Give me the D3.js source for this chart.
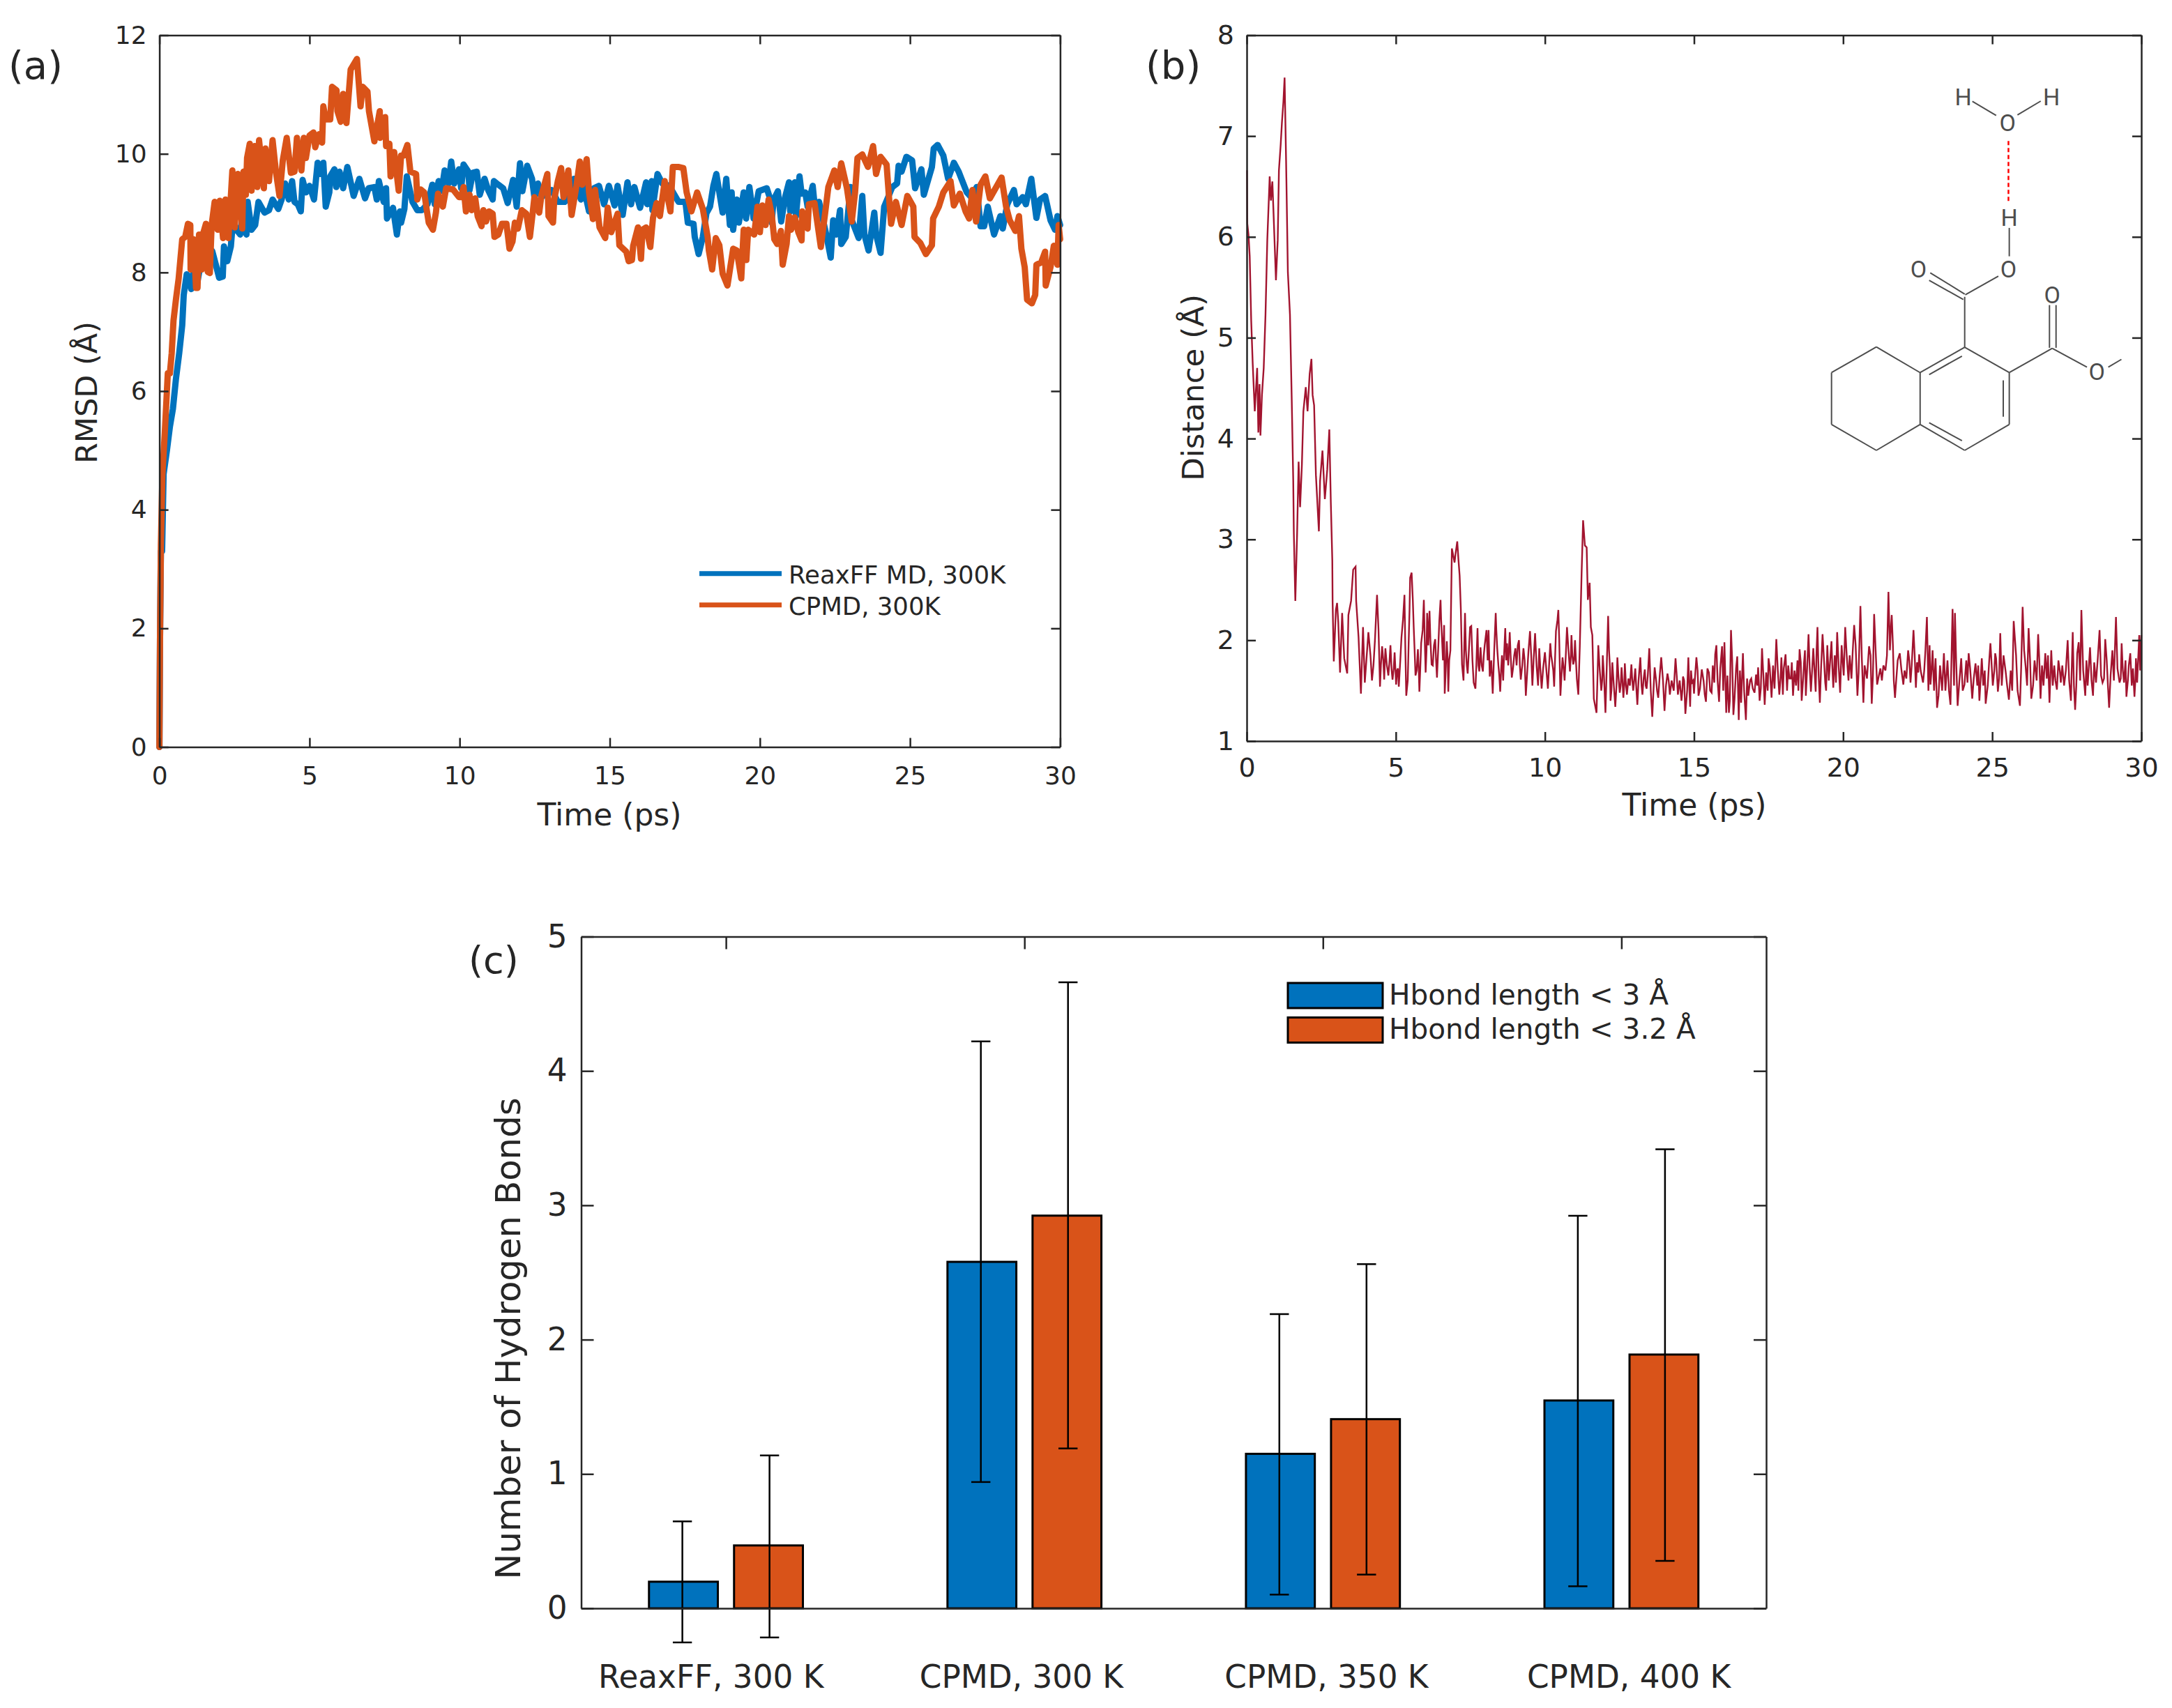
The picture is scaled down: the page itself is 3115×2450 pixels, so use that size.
<!DOCTYPE html>
<html>
<head>
<meta charset="utf-8">
<script src="https://cdn.jsdelivr.net/npm/d3@7"></script>
<style>
  html, body { margin: 0; background: #fff; }
  text { font-family: "DejaVu Sans"; fill: #262626; }
</style>
</head>
<body>
<svg id="chart" width="3115" height="2450"></svg>
<script>
// (a) RMSD traces, [time ps, RMSD A]
const reaxffRmsd = [[0,0],[.02,1.8],[.05,3.3],[.09,3.3],[.14,4.6],[.25,5],[.35,5.4],[.45,5.7],[.55,6.2],[.66,6.64],[.76,7.11],[.81,7.62],[.91,7.97],[.99,7.93],[1.06,7.72],[1.14,8.01],[1.26,7.82],[1.37,8.13],[1.57,8.36],[1.76,8.36],[1.88,8.13],[1.99,7.91],[2.11,7.93],[2.15,8.44],[2.26,8.19],[2.38,8.44],[2.45,8.87],[2.57,8.72],[2.69,8.64],[2.76,8.91],[2.9,8.64],[2.94,9.19],[3.07,8.72],[3.19,8.8],[3.3,9.19],[3.5,9.01],[3.65,9.05],[3.77,9.23],[3.96,9.07],[4.07,9.23],[4.19,9.5],[4.31,9.23],[4.42,9.54],[4.5,9.19],[4.61,9.15],[4.71,9.03],[4.77,9.56],[4.88,9.35],[5,9.46],[5.15,9.23],[5.27,9.85],[5.35,9.66],[5.46,9.85],[5.54,9.11],[5.66,9.35],[5.69,9.62],[5.83,9.74],[5.89,9.44],[6,9.7],[6.12,9.42],[6.26,9.78],[6.47,9.29],[6.66,9.58],[6.85,9.25],[6.97,9.42],[7.16,9.44],[7.24,9.23],[7.31,9.54],[7.47,9.19],[7.55,9.42],[7.58,8.91],[7.78,9.09],[7.91,8.64],[8.01,9.03],[8.05,8.84],[8.16,9.07],[8.24,9.62],[8.43,9.19],[8.59,9.05],[8.74,9.05],[8.93,9.15],[9.09,9.48],[9.17,9.15],[9.3,9.54],[9.4,9.38],[9.5,9.72],[9.63,9.5],[9.72,9.87],[9.82,9.5],[9.98,9.74],[10.05,9.42],[10.13,9.82],[10.29,9.7],[10.33,9.39],[10.44,9.68],[10.57,9.7],[10.67,9.31],[10.83,9.58],[10.95,9.39],[11.1,9.23],[11.14,9.54],[11.29,9.48],[11.45,9.42],[11.6,9.17],[11.78,9.56],[11.9,9.11],[12.01,9.84],[12.09,9.37],[12.25,9.8],[12.41,9.58],[12.49,9.27],[12.61,9.5],[12.72,9.27],[13.07,9.39],[13.27,9.19],[13.5,9.19],[13.81,9.58],[14.04,9.23],[14.12,9.46],[14.31,9.03],[14.47,9.42],[14.64,9.46],[14.81,9.15],[14.97,9.46],[15.16,9.13],[15.26,9.46],[15.43,8.97],[15.59,9.52],[15.71,9.15],[15.82,9.44],[16.01,9.09],[16.21,9.52],[16.25,9.15],[16.4,9.54],[16.42,9.05],[16.59,9.66],[16.75,9.5],[16.98,9.46],[17.29,9.19],[17.52,9.19],[17.6,8.84],[17.79,8.82],[17.83,8.6],[17.96,8.31],[18.1,8.6],[18.22,9],[18.34,9.11],[18.45,9.46],[18.55,9.66],[18.65,9.35],[18.76,9.01],[18.88,9.58],[19,8.8],[19.06,9.35],[19.11,8.72],[19.23,9.23],[19.3,8.84],[19.46,9.35],[19.54,8.91],[19.65,9.44],[19.79,8.91],[19.96,9.37],[20.23,9.42],[20.35,9.23],[20.39,8.84],[20.46,9.23],[20.6,9.37],[20.71,8.86],[20.84,9.27],[20.97,9.52],[21.01,9.03],[21.16,9.52],[21.2,8.95],[21.32,9.62],[21.39,9.33],[21.51,9.35],[21.59,9.11],[21.76,9.46],[21.82,9.15],[21.97,9.19],[22.21,8.64],[22.36,8.25],[22.44,8.88],[22.55,8.64],[22.67,9.05],[22.71,8.48],[22.86,8.6],[23.02,9.44],[23.06,8.88],[23.29,8.58],[23.41,9.29],[23.48,8.64],[23.62,8.37],[23.81,9.01],[23.87,8.64],[24.02,8.33],[24.14,9.11],[24.41,9.44],[24.57,9.5],[24.62,9.8],[24.72,9.7],[24.88,9.95],[25.07,9.89],[25.17,9.42],[25.38,9.74],[25.46,9.31],[25.73,9.78],[25.79,10.09],[25.92,10.15],[26.11,9.97],[26.27,9.58],[26.46,9.85],[26.62,9.7],[26.89,9.35],[27.04,9.27],[27.22,9.44],[27.35,8.78],[27.47,8.78],[27.59,9.11],[27.8,8.64],[28.01,8.95],[28.09,8.74],[28.24,9.15],[28.46,9.39],[28.55,9.15],[28.75,9.27],[28.86,9.15],[29.04,9.58],[29.21,8.92],[29.33,9.23],[29.5,9.29],[29.68,8.88],[29.83,8.72],[29.91,8.95],[30,8.8]];

const cpmdRmsd = [[0,0],[.02,1.8],[.05,3.4],[.1,4.6],[.18,5.3],[.28,6.3],[.35,6.3],[.41,6.64],[.47,7.19],[.55,7.54],[.64,7.89],[.76,8.56],[.86,8.6],[.95,8.82],[1.03,8.8],[1.04,8.05],[1.14,8.56],[1.22,7.74],[1.27,7.74],[1.32,8.64],[1.41,8.05],[1.47,8.68],[1.55,8.82],[1.61,8.01],[1.68,7.99],[1.74,8.8],[1.84,9.19],[1.94,8.72],[2.01,9.21],[2.12,8.58],[2.2,9.23],[2.3,8.58],[2.43,9.72],[2.51,8.76],[2.61,9.66],[2.76,8.74],[2.8,9.7],[2.88,9.31],[2.92,9.93],[3.01,10.17],[3.07,9.38],[3.17,10.13],[3.26,9.44],[3.32,10.23],[3.48,9.42],[3.53,10.09],[3.65,9.54],[3.77,10.23],[3.88,9.7],[4,9.29],[4.11,9.89],[4.24,10.27],[4.38,9.68],[4.5,9.7],[4.58,10.27],[4.73,9.72],[4.81,10.27],[4.88,9.93],[5,10.31],[5.13,10.36],[5.19,10.11],[5.31,10.33],[5.42,10.19],[5.46,10.8],[5.54,10.58],[5.69,10.58],[5.75,11.13],[5.9,11.07],[5.93,10.72],[6.04,10.54],[6.12,11.01],[6.23,10.52],[6.37,11.42],[6.58,11.6],[6.7,10.8],[6.77,11.13],[6.93,11.05],[6.98,10.72],[7.16,10.21],[7.34,10.72],[7.35,10.27],[7.52,10.62],[7.55,10.13],[7.66,10.17],[7.7,9.62],[7.82,10.03],[7.97,9.38],[8.05,9.97],[8.13,9.97],[8.26,10.15],[8.36,9.7],[8.55,9.66],[8.59,9.23],[8.7,9.4],[8.82,9.35],[8.9,9.07],[8.97,8.84],[9.11,8.72],[9.21,9.01],[9.28,9.33],[9.44,9.11],[9.55,9.42],[9.78,9.4],[9.98,9.27],[10.05,9.27],[10.13,9.44],[10.21,9.03],[10.33,9.31],[10.4,9.05],[10.52,9.25],[10.6,8.95],[10.73,8.78],[10.79,9.05],[10.88,8.86],[10.98,9.03],[11.1,8.99],[11.16,8.6],[11.29,8.64],[11.41,8.82],[11.56,8.82],[11.66,8.4],[11.76,8.52],[11.84,8.84],[11.94,8.74],[12.07,9.05],[12.22,8.99],[12.34,8.6],[12.43,8.99],[12.49,9.27],[12.65,9.01],[12.72,9.29],[12.92,9.66],[12.96,8.95],[13.11,8.84],[13.15,9.23],[13.27,9.54],[13.38,9.76],[13.46,9.27],[13.62,9.72],[13.73,8.97],[13.89,9.46],[14,9.87],[14.08,9.48],[14.23,9.91],[14.31,9.35],[14.44,8.9],[14.51,9.39],[14.66,8.76],[14.85,8.58],[14.93,9.09],[15.05,8.68],[15.26,8.99],[15.32,8.46],[15.55,8.35],[15.63,8.19],[15.74,8.21],[15.78,8.45],[15.94,8.76],[16.04,8.23],[16.09,8.72],[16.21,8.76],[16.35,8.43],[16.44,8.92],[16.56,9.17],[16.67,8.95],[16.83,9.54],[17.02,9.03],[17.1,9.78],[17.28,9.78],[17.45,9.76],[17.56,9.35],[17.72,9.03],[17.91,9.35],[18.1,9.07],[18.26,8.6],[18.3,8.37],[18.41,8.05],[18.53,8.58],[18.65,8.46],[18.76,7.98],[18.92,7.78],[19.11,8.4],[19.23,8.37],[19.38,7.9],[19.46,8.72],[19.55,8.21],[19.61,8.72],[19.81,8.64],[19.92,9.11],[20,8.68],[20.08,9.13],[20.19,8.8],[20.29,9.23],[20.39,8.99],[20.48,8.56],[20.58,8.48],[20.7,8.7],[20.76,8.13],[20.89,8.48],[20.97,8.95],[21.04,8.72],[21.16,8.93],[21.28,8.68],[21.39,8.54],[21.41,9.03],[21.59,8.74],[21.63,9.15],[21.82,9.17],[22.03,8.43],[22.17,8.99],[22.28,9.44],[22.48,9.72],[22.59,9.44],[22.71,9.84],[22.9,9.42],[23.06,8.86],[23.17,9.35],[23.25,9.93],[23.41,9.99],[23.6,9.78],[23.77,10.13],[23.87,9.66],[24.02,9.95],[24.22,9.82],[24.3,9.27],[24.37,8.82],[24.53,9.19],[24.72,8.8],[24.91,9.29],[25.11,9.11],[25.15,8.6],[25.34,8.5],[25.53,8.31],[25.73,8.46],[25.77,8.91],[25.96,9.11],[26.11,9.35],[26.35,9.54],[26.46,9.13],[26.66,9.33],[26.85,9.03],[26.97,8.91],[27.08,9.39],[27.2,8.86],[27.35,9.48],[27.51,9.62],[27.66,9.25],[28.05,9.6],[28.2,9.11],[28.32,8.88],[28.51,8.7],[28.63,8.95],[28.71,8.4],[28.82,8.09],[28.9,7.54],[29.06,7.48],[29.17,7.62],[29.21,8.13],[29.37,8.17],[29.5,8.35],[29.52,7.78],[29.68,8.09],[29.79,8.45],[29.91,8.13],[29.95,8.8],[30,8.56]];

// (b) distance trace, [time ps, distance A]: the spikes, then the finer wiggle between them
const hbDistance = [[.01,6.66],[.02,6.13],[.06,6.02],[.1,5.81],[.15,5.17],[.2,4.75],[.27,4.27],[.35,4.7],[.39,4.06],[.43,4.54],[.46,4.03],[.51,4.43],[.57,4.7],[.63,5.23],[.69,5.97],[.77,6.6],[.81,6.36],[.86,6.55],[.9,6.23],[.98,5.57],[1.04,5.97],[1.08,6.66],[1.14,6.92],[1.18,7.13],[1.23,7.34],[1.27,7.58],[1.32,6.76],[1.38,5.65],[1.45,5.23],[1.51,4.38],[1.56,3.58],[1.58,3.06],[1.63,2.39],[1.69,3.06],[1.74,3.77],[1.79,3.32],[1.85,3.74],[1.9,4.27],[1.98,4.51],[2.04,4.27],[2.11,4.64],[2.17,4.79],[2.21,4.43],[2.26,4.33],[2.32,3.64],[2.42,3.08],[2.46,3.58],[2.54,3.88],[2.62,3.4],[2.7,3.69],[2.77,4.09],[2.82,3.37],[2.87,2.79],[2.88,2.38],[2.92,1.79],[2.99,2.3],[3.03,2.37],[3.07,2.18],[3.13,1.68],[3.2,2.27],[3.27,1.82],[3.37,1.67],[3.41,2.25],[3.5,2.39],[3.57,2.7],[3.65,2.73],[3.67,2.39],[3.75,2.03],[3.83,1.47],[3.9,2.13],[3.96,1.58],[4.08,2.08],[4.2,1.6],[4.37,2.45],[4.47,1.54],[4.54,1.94],[4.61,1.61],[4.65,1.92],[4.75,1.65],[4.82,1.95],[4.89,1.61],[4.96,1.88],[5.01,1.56],[5.07,1.72],[5.1,1.54],[5.19,2.03],[5.29,2.45],[5.35,1.45],[5.43,1.97],[5.48,2.62],[5.53,2.67],[5.6,2.13],[5.66,1.65],[5.74,1.91],[5.79,1.49],[5.85,1.97],[5.94,2.4],[6,1.68],[6.05,2.27],[6.13,2.29],[6.2,1.76],[6.32,2.01],[6.38,1.63],[6.5,2.4],[6.55,2.01],[6.62,2.15],[6.64,1.47],[6.71,1.99],[6.76,1.49],[6.83,1.9],[6.88,2.91],[6.97,2.77],[7.06,2.98],[7.14,2.64],[7.18,2.31],[7.22,1.76],[7.27,1.6],[7.32,2.27],[7.41,1.67],[7.49,2.13],[7.53,2.14],[7.61,1.58],[7.67,1.52],[7.74,2.12],[7.8,1.69],[7.84,1.93],[7.92,1.69],[8.04,2.1],[8.11,2.1],[8.15,1.64],[8.25,1.47],[8.35,2.27],[8.4,1.92],[8.5,1.49],[8.56,1.85],[8.6,1.6],[8.67,2.12],[8.73,1.97],[8.82,2.08],[8.89,1.63],[9.01,1.92],[9.13,2],[9.19,1.61],[9.28,1.92],[9.36,1.45],[9.5,2.09],[9.58,1.55],[9.67,2.07],[9.77,1.55],[9.81,1.92],[9.89,1.52],[10,1.88],[10.1,1.52],[10.18,1.97],[10.24,1.79],[10.31,1.54],[10.37,2.09],[10.45,2.3],[10.52,1.45],[10.59,1.83],[10.66,1.6],[10.74,2.13],[10.84,1.69],[10.89,2.05],[10.95,1.76],[11.01,2],[11.07,1.62],[11.12,1.46],[11.17,1.94],[11.23,2.66],[11.28,3.19],[11.34,2.94],[11.4,2.92],[11.44,2.4],[11.5,2.57],[11.54,2.13],[11.59,2.05],[11.64,1.42],[11.73,1.28],[11.79,1.95],[11.89,1.5],[11.94,1.85],[12.03,1.28],[12.12,2.24],[12.18,1.73],[12.2,1.4],[12.26,1.78],[12.36,1.34],[12.43,1.83],[12.51,1.48],[12.57,1.73],[12.63,1.43],[12.68,1.77],[12.75,1.46],[12.9,1.76],[12.96,1.5],[13.03,1.72],[13.1,1.36],[13.2,1.83],[13.27,1.46],[13.35,1.71],[13.41,1.52],[13.5,1.92],[13.6,1.24],[13.68,1.73],[13.8,1.43],[13.9,1.83],[14.01,1.3],[14.11,1.67],[14.19,1.46],[14.38,1.82],[14.46,1.46],[14.58,1.4],[14.63,1.64],[14.71,1.27],[14.81,1.83],[14.87,1.34],[14.93,1.58],[15,1.47],[15.08,1.83],[15.15,1.45],[15.26,1.71],[15.4,1.39],[15.45,1.72],[15.59,1.48],[15.75,1.95],[15.84,1.39],[15.94,1.94],[16.02,1.98],[16.08,1.28],[16.17,1.28],[16.24,2.1],[16.32,1.26],[16.45,1.84],[16.5,1.21],[16.64,1.87],[16.74,1.21],[16.88,1.6],[17.03,1.48],[17.15,1.73],[17.2,1.4],[17.28,1.92],[17.37,1.36],[17.54,1.73],[17.6,1.43],[17.76,2.01],[17.86,1.46],[17.93,1.83],[17.98,1.46],[18.07,1.86],[18.2,1.62],[18.32,1.45],[18.54,1.91],[18.61,1.4],[18.69,1.78],[18.75,1.45],[18.84,2.06],[18.92,1.49],[19,1.92],[19.08,1.49],[19.14,2.13],[19.22,1.38],[19.31,2.06],[19.43,1.5],[19.61,1.99],[19.67,1.53],[19.8,2.08],[19.9,1.48],[20.07,2.13],[20.18,1.6],[20.37,2.15],[20.48,1.45],[20.58,2.34],[20.68,1.38],[20.87,1.94],[20.96,1.37],[21.04,2.26],[21.14,1.56],[21.35,1.75],[21.52,2.48],[21.6,2.11],[21.67,1.95],[21.74,1.43],[21.9,1.87],[22.02,1.56],[22.18,1.9],[22.26,1.58],[22.36,2.1],[22.44,1.53],[22.55,1.86],[22.68,1.58],[22.81,2.23],[22.93,1.56],[23,1.9],[23.15,1.33],[23.38,1.87],[23.6,1.36],[23.67,2.31],[23.75,2.27],[23.84,1.35],[23.96,1.82],[24.07,1.56],[24.21,1.87],[24.33,1.42],[24.44,1.77],[24.57,1.4],[24.65,1.82],[24.78,1.37],[24.94,1.97],[25.1,1.87],[25.19,1.49],[25.27,2.07],[25.45,1.69],[25.56,1.41],[25.72,2.19],[25.93,1.35],[26.02,2.33],[26.12,1.74],[26.22,2.12],[26.31,1.42],[26.54,2.06],[26.62,1.42],[26.78,1.87],[26.92,1.38],[26.98,1.9],[27.17,1.51],[27.27,1.69],[27.53,2],[27.64,1.4],[27.7,2.08],[27.78,1.31],[27.85,1.87],[27.99,2.3],[28.12,1.45],[28.28,1.93],[28.38,1.45],[28.6,2.1],[28.7,1.58],[28.79,2.01],[28.92,1.33],[29.15,2.23],[29.27,1.58],[29.34,1.97],[29.5,1.44],[29.63,1.87],[29.77,1.44],[29.82,1.82],[29.93,2.05],[30,2.05]];
const hbDistanceFine = [[4.15,1.85],[4.25,1.75],[4.3,2],[4.42,2.1],[4.5,1.75],[4.58,1.8],[4.7,1.75],[4.79,1.8],[4.86,1.7],[4.93,1.72],[5.04,1.7],[5.15,1.8],[5.24,2.2],[5.32,1.9],[5.4,1.6],[5.46,2.3],[5.57,2.4],[5.63,1.9],[5.7,1.7],[5.77,1.7],[5.82,1.72],[5.9,2.1],[5.97,2],[6.03,1.9],[6.09,1.95],[6.16,2],[6.24,1.75],[6.28,1.95],[6.35,1.8],[6.42,1.9],[6.46,2.2],[6.52,2.2],[6.58,1.8],[6.68,1.75],[6.74,1.8],[6.79,1.8],[7,2.85],[7.1,2.8],[7.35,1.9],[7.38,1.75],[7.45,1.9],[7.57,1.8],[7.7,1.75],[7.77,1.75],[7.88,1.75],[7.95,1.85],[7.98,1.95],[8.08,1.8],[8.2,1.8],[8.3,1.9],[8.37,2.1],[8.44,1.75],[8.47,1.65],[8.53,1.7],[8.63,1.85],[8.7,1.8],[8.77,1.75],[8.85,1.85],[8.93,1.72],[8.97,1.85],[9.05,1.75],[9.09,1.95],[9.16,1.75],[9.24,1.75],[9.32,1.8],[9.41,1.7],[9.45,1.9],[9.54,1.85],[9.62,1.8],[9.72,1.75],[9.85,1.7],[9.94,1.72],[10.05,1.7],[10.14,1.75],[10.21,1.85],[10.28,1.7],[10.42,2.2],[10.48,2],[10.55,1.62],[10.62,1.75],[10.7,1.85],[10.79,1.9],[10.87,1.85],[10.92,1.85],[10.98,1.8],[11.04,1.8],[11.76,1.6],[11.84,1.7],[11.92,1.6],[11.98,1.65],[12.07,1.7],[12.15,1.9],[12.23,1.5],[12.3,1.6],[12.4,1.55],[12.47,1.62],[12.54,1.55],[12.6,1.6],[12.66,1.55],[12.72,1.55],[12.8,1.62],[12.85,1.55],[12.93,1.6],[13,1.62],[13.06,1.55],[13.14,1.6],[13.24,1.55],[13.31,1.62],[13.38,1.55],[13.45,1.65],[13.55,1.5],[13.64,1.5],[13.73,1.6],[13.76,1.5],[13.85,1.65],[13.96,1.6],[14.06,1.55],[14.15,1.6],[14.25,1.6],[14.32,1.5],[14.42,1.65],[14.52,1.6],[14.61,1.5],[14.67,1.6],[14.77,1.5],[14.84,1.55],[14.9,1.7],[14.97,1.6],[15.03,1.62],[15.12,1.7],[15.2,1.52],[15.32,1.6],[15.36,1.46],[15.5,1.68],[15.54,1.5],[15.63,1.75],[15.68,1.58],[15.71,1.86],[15.79,1.6],[15.88,1.72],[15.98,1.5],[16.05,1.62],[16.12,1.65],[16.2,1.4],[16.28,1.8],[16.36,1.42],[16.41,1.72],[16.54,1.7],[16.58,1.38],[16.68,1.5],[16.78,1.62],[16.82,1.45],[16.92,1.62],[16.97,1.52],[17.08,1.66],[17.12,1.55],[17.24,1.52],[17.33,1.62],[17.42,1.68],[17.47,1.5],[17.5,1.82],[17.57,1.58],[17.65,1.75],[17.7,1.52],[17.81,1.7],[17.9,1.62],[18.01,1.72],[18.12,1.5],[18.16,1.75],[18.25,1.62],[18.28,1.78],[18.37,1.7],[18.42,1.55],[18.47,1.8],[18.5,1.5],[18.58,1.78],[18.66,1.62],[18.72,1.9],[18.79,1.7],[18.88,1.72],[18.96,1.7],[19.04,1.7],[19.11,1.9],[19.18,1.65],[19.26,1.72],[19.36,1.8],[19.4,1.58],[19.47,1.95],[19.52,1.6],[19.57,1.82],[19.64,1.72],[19.72,1.85],[19.76,1.58],[19.85,1.75],[19.95,1.95],[20.02,1.65],[20.12,1.85],[20.22,1.85],[20.28,1.62],[20.32,1.88],[20.42,1.95],[20.52,1.68],[20.63,1.8],[20.72,1.75],[20.8,1.62],[20.92,1.85],[21,1.65],[21.09,1.9],[21.2,1.65],[21.25,1.72],[21.3,1.6],[21.42,1.7],[21.47,1.85],[21.57,1.9],[21.63,2.25],[21.7,1.6],[21.78,1.6],[21.83,1.8],[21.95,1.72],[22.06,1.7],[22.12,1.62],[22.22,1.8],[22.3,1.75],[22.4,1.85],[22.48,1.78],[22.52,1.68],[22.6,1.7],[22.72,1.7],[22.76,1.9],[22.86,1.5],[22.9,1.95],[22.97,1.72],[23.05,1.5],[23.1,1.82],[23.2,1.45],[23.25,1.75],[23.32,1.5],[23.43,1.5],[23.5,1.8],[23.55,1.5],[23.72,1.55],[23.79,1.8],[23.9,1.6],[24.01,1.5],[24.13,1.8],[24.17,1.58],[24.26,1.72],[24.38,1.62],[24.5,1.55],[24.53,1.75],[24.61,1.6],[24.7,1.55],[24.75,1.7],[24.85,1.55],[24.9,1.8],[25.02,1.55],[25.07,1.7],[25.13,1.82],[25.23,1.62],[25.32,1.55],[25.38,1.85],[25.5,1.55],[25.62,1.7],[25.67,1.5],[25.8,1.85],[25.85,1.5],[25.97,1.72],[26.07,1.9],[26.17,1.55],[26.27,1.8],[26.37,1.55],[26.42,1.8],[26.49,1.6],[26.58,1.8],[26.67,1.75],[26.72,1.55],[26.83,1.62],[26.87,1.85],[27.03,1.55],[27.08,1.75],[27.12,1.6],[27.22,1.8],[27.3,1.58],[27.35,1.75],[27.41,1.55],[27.47,1.7],[27.58,1.6],[27.67,1.75],[27.74,1.55],[27.82,1.55],[27.9,1.98],[27.95,1.6],[28.05,1.7],[28.16,1.8],[28.2,1.55],[28.33,1.6],[28.42,1.78],[28.48,1.58],[28.54,1.82],[28.65,1.65],[28.75,1.62],[28.84,1.8],[28.88,1.55],[28.97,1.65],[29.03,1.9],[29.08,1.6],[29.2,1.72],[29.31,1.62],[29.38,1.7],[29.42,1.58],[29.47,1.8],[29.55,1.6],[29.58,1.75],[29.68,1.55],[29.72,1.72],[29.8,1.6],[29.86,1.58],[29.96,1.7]];

// (c) bars and their error bars
const categories = ['ReaxFF, 300 K', 'CPMD, 300 K', 'CPMD, 350 K', 'CPMD, 400 K'];
const categoryLabelAt = [0.95, 1.99, 3.012, 4.025];
const hbond30 = [0.198, 2.579, 1.15, 1.547];
const hbond30Low = [-0.254, 0.94, 0.102, 0.164];
const hbond30High = [0.647, 4.22, 2.19, 2.922];
const hbond32 = [0.468, 2.923, 1.408, 1.889];
const hbond32Low = [-0.217, 1.19, 0.251, 0.353];
const hbond32High = [1.138, 4.66, 2.562, 3.417];

// molecule inset, drawn in its own drawing units
const bonds = [[838,216,925,267],[1003,265,1088,215],[973,675,973,778],[684,838,810,915],[680,865,805,935],[812,918,933,850],[810,925,810,1108],[810,1108,973,1200],[973,1200,973,1388],[973,1388,810,1482],[810,1482,647,1388],[647,1388,647,1200],[647,1200,810,1108],[680,1207,800,1140],[951,1228,951,1360],[680,1382,800,1447],[647,1200,487,1107],[487,1107,323,1200],[323,1200,323,1388],[323,1388,487,1482],[487,1482,647,1388],[973,1200,1130,1112],[1120,955,1120,1110],[1144,955,1144,1110],[1130,1112,1257,1180],[1335,1180,1383,1152]];
const hBond = [970, 360, 970, 580];
const atoms = [['H',805,200],['H',1127,200],['O',967,293],['H',973,637],['O',970,823],['O',641,823],['O',1130,917],['O',1293,1195]];

const blue = '#0072bd', orange = '#d95319', wine = '#a2142f', ink = '#262626';

const svg = d3.select('#chart');
svg.append('rect').attr('width', 3115).attr('height', 2450).attr('fill', '#fff');

// boxed matlab style axes, ticks inside on all four sides
function boxAxes(x, y, o) {
  const [x0, x1] = x.range(), [y0, y1] = y.range();
  const g = svg.append('g');
  const bottom = d3.axisBottom(x).tickValues(o.xTicks).tickSizeInner(o.xBottomTick).tickSizeOuter(0).tickPadding(o.xPad);
  bottom.tickFormat(o.hideXLabels ? '' : d3.format('d'));
  const top = d3.axisTop(x).tickValues(o.xTicks).tickSizeInner(-o.tick).tickSizeOuter(0).tickFormat('');
  const left = d3.axisLeft(y).tickValues(o.yTicks).tickSizeInner(-o.tick).tickSizeOuter(0).tickPadding(o.yPad).tickFormat(d3.format('d'));
  const right = d3.axisRight(y).tickValues(o.yTicks).tickSizeInner(-o.tick).tickSizeOuter(0).tickFormat('');
  g.append('g').attr('transform', `translate(0,${y0})`).call(bottom);
  g.append('g').attr('transform', `translate(0,${y1})`).call(top);
  g.append('g').attr('transform', `translate(${x0},0)`).call(left);
  g.append('g').attr('transform', `translate(${x1},0)`).call(right);
  g.selectAll('path.domain, line').attr('stroke', ink).attr('stroke-width', 2.5);
  g.selectAll('text').attr('fill', ink).style('font-size', o.font + 'px').style('font-family', '"DejaVu Sans"');
}

function label(x, y, s, size, rotate) {
  svg.append('text')
    .attr('transform', `translate(${x},${y})` + (rotate ? ' rotate(-90)' : ''))
    .attr('text-anchor', rotate === undefined ? 'start' : 'middle')
    .style('font-size', size + 'px')
    .text(s);
}

// ---- (a)
const xA = d3.scaleLinear().domain([0, 30]).range([228.6, 1520.4]);
const yA = d3.scaleLinear().domain([0, 12]).range([1071.5, 50.5]);
const lineA = d3.line().x(d => xA(d[0])).y(d => yA(d[1]));
[[reaxffRmsd, blue], [cpmdRmsd, orange]].forEach(([rows, color]) => {
  svg.append('path').attr('d', lineA(rows)).attr('fill', 'none').attr('stroke', color)
    .attr('stroke-width', 9).attr('stroke-linejoin', 'round').attr('stroke-linecap', 'round');
});
boxAxes(xA, yA, { xTicks: d3.range(0, 31, 5), yTicks: d3.range(0, 13, 2), tick: 13, xBottomTick: -13, xPad: 28, yPad: 18, font: 36 });
label(874, 1184, 'Time (ps)', 44, 0);
label(139, 563, 'RMSD (Å)', 43, 1);
label(12, 113, '(a)', 56);
const legendA = [['ReaxFF MD, 300K', blue, 836.5, 822.7], ['CPMD, 300K', orange, 882, 867.8]];
legendA.forEach(([name, color, base, mid]) => {
  svg.append('line').attr('x1', 1003).attr('x2', 1121).attr('y1', mid).attr('y2', mid)
    .attr('stroke', color).attr('stroke-width', 7);
  label(1131, base, name, 35.5);
});

// ---- (b)
const xB = d3.scaleLinear().domain([0, 30]).range([1788, 3071]);
const yB = d3.scaleLinear().domain([1, 8]).range([1063, 50.5]);
const lineB = d3.line().x(d => xB(d[0])).y(d => yB(d[1]));
const hbAll = hbDistance.concat(hbDistanceFine).sort((a, b) => a[0] - b[0]);
svg.append('path').attr('d', lineB(hbAll)).attr('fill', 'none').attr('stroke', wine).attr('stroke-width', 2.4);
boxAxes(xB, yB, { xTicks: d3.range(0, 31, 5), yTicks: d3.range(1, 9), tick: 13, xBottomTick: -13, xPad: 24, yPad: 18, font: 38 });
label(2430, 1170, 'Time (ps)', 44, 0);
label(1726, 556, 'Distance (Å)', 43.5, 1);
label(1643, 113, '(b)', 56);

const molX = d3.scaleLinear().domain([0, 1568]).range([2500, 3115]);
const molY = d3.scaleLinear().domain([0, 1568]).range([60, 680]);
const mol = svg.append('g');
mol.selectAll('line.bond').data(bonds).enter().append('line')
  .attr('x1', d => molX(d[0])).attr('y1', d => molY(d[1]))
  .attr('x2', d => molX(d[2])).attr('y2', d => molY(d[3]))
  .attr('stroke', '#4d4d4d').attr('stroke-width', 2);
mol.append('line')
  .attr('x1', molX(hBond[0])).attr('y1', molY(hBond[1]))
  .attr('x2', molX(hBond[2])).attr('y2', molY(hBond[3]))
  .attr('stroke', '#f00').attr('stroke-width', 2.5).attr('stroke-dasharray', '6 4');
mol.selectAll('text').data(atoms).enter().append('text')
  .attr('x', d => molX(d[1])).attr('y', d => molY(d[2]))
  .attr('dy', '0.36em').attr('text-anchor', 'middle')
  .style('font-family', 'Roboto').style('font-size', '34px').style('fill', '#4d4d4d')
  .text(d => d[0]);

// ---- (c)
const xC = d3.scaleLinear().domain([0.515, 4.485]).range([833.5, 2533]);
const yC = d3.scaleLinear().domain([0, 5]).range([2307, 1343.5]);
const barWidth = 0.2307, barShift = 0.1425, errShift = 0.146, capHalf = 0.032;
[[hbond30, blue, -1], [hbond32, orange, 1]].forEach(([vals, color, side]) => {
  svg.append('g').selectAll('rect').data(vals).enter().append('rect')
    .attr('x', (d, i) => xC(i + 1 + side * barShift - barWidth / 2))
    .attr('width', xC(1 + barWidth) - xC(1))
    .attr('y', d => yC(d))
    .attr('height', d => yC(0) - yC(d))
    .attr('fill', color).attr('stroke', '#000').attr('stroke-width', 3);
});
[[hbond30Low, hbond30High, -1], [hbond32Low, hbond32High, 1]].forEach(([lows, highs, side]) => {
  const g = svg.append('g').attr('stroke', '#000').attr('stroke-width', 2.5);
  lows.forEach((low, i) => {
    const c = i + 1 + side * errShift;
    g.append('line').attr('x1', xC(c)).attr('x2', xC(c)).attr('y1', yC(low)).attr('y2', yC(highs[i]));
    g.append('line').attr('x1', xC(c - capHalf)).attr('x2', xC(c + capHalf)).attr('y1', yC(low)).attr('y2', yC(low));
    g.append('line').attr('x1', xC(c - capHalf)).attr('x2', xC(c + capHalf)).attr('y1', yC(highs[i])).attr('y2', yC(highs[i]));
  });
});
boxAxes(xC, yC, { xTicks: [1, 2, 3, 4], yTicks: d3.range(0, 6), tick: 18, xBottomTick: 0, xPad: 0, yPad: 20, font: 45.3, hideXLabels: true });
categories.forEach((name, i) => {
  svg.append('text').attr('x', xC(categoryLabelAt[i])).attr('y', 2421).attr('text-anchor', 'middle')
    .style('font-size', '45.3px').text(name);
});
label(746, 1920, 'Number of Hydrogen Bonds', 49.8, 1);
label(672, 1396, '(c)', 54);
const legendC = [['Hbond length < 3 Å', blue, 1410, 1441], ['Hbond length < 3.2 Å', orange, 1459.5, 1490]];
legendC.forEach(([name, color, top, base]) => {
  svg.append('rect').attr('x', 1847).attr('y', top).attr('width', 136).attr('height', 36)
    .attr('fill', color).attr('stroke', '#000').attr('stroke-width', 3);
  label(1992, base, name, 40.6);
});
</script>
</body>
</html>
